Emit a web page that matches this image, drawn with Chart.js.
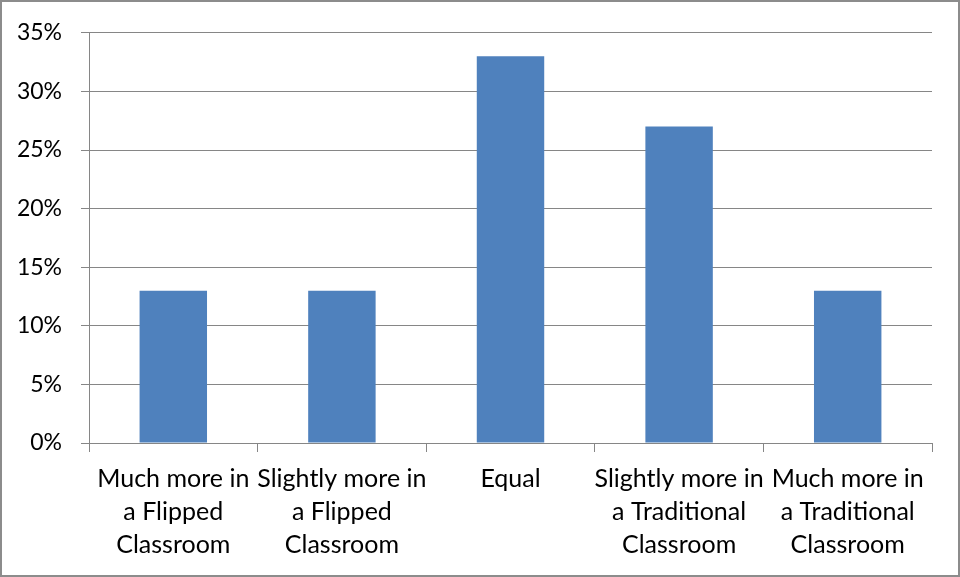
<!DOCTYPE html>
<html>
<head>
<meta charset="utf-8">
<script src="https://cdn.jsdelivr.net/npm/chart.js@4.4.1/dist/chart.umd.min.js"></script>
<style>
  html, body { margin: 0; padding: 0; background: #fff; }
  #wrap { width: 960px; height: 577px; position: relative; }
</style>
</head>
<body>
<div id="wrap"><canvas id="chart" width="960" height="577"></canvas></div>
<script>
const categories = [
  ['Much more in', 'a Flipped', 'Classroom'],
  ['Slightly more in', 'a Flipped', 'Classroom'],
  'Equal',
  ['Slightly more in', 'a Traditional', 'Classroom'],
  ['Much more in', 'a Traditional', 'Classroom']
];
const percentages = [13, 13, 33, 27, 13];

const axisGray = '#868686';
const fontFamily = 'Lato, "Open Sans", sans-serif';

// draw the outer frame around the whole chart
const framePlugin = {
  id: 'frame',
  afterDraw(chart) {
    const ctx = chart.ctx;
    ctx.save();
    ctx.strokeStyle = '#8c8c8c';
    ctx.lineWidth = 2;
    ctx.strokeRect(1, 1, chart.width - 2, chart.height - 2);
    ctx.restore();
  }
};

new Chart(document.getElementById('chart'), {
  type: 'bar',
  data: {
    labels: categories,
    datasets: [{
      data: percentages,
      backgroundColor: '#4F81BD',
      borderWidth: 0,
      barPercentage: 0.4,
      categoryPercentage: 1
    }]
  },
  options: {
    responsive: false,
    animation: false,
    layout: { padding: { left: 0, top: 30, right: 28, bottom: 0 } },
    plugins: {
      legend: { display: false },
      tooltip: { enabled: false }
    },
    scales: {
      y: {
        min: 0,
        max: 35,
        ticks: {
          stepSize: 5,
          color: '#000',
          padding: 19,
          font: { family: fontFamily, size: 23 },
          callback: (v) => v + '%'
        },
        grid: { color: axisGray, lineWidth: 1, tickLength: 8 },
        border: { color: axisGray, width: 1 },
        afterFit(scale) { scale.width = 89; }
      },
      x: {
        ticks: {
          color: '#000',
          maxRotation: 0,
          autoSkip: false,
          padding: 10,
          font: { family: fontFamily, size: 25, lineHeight: 1.32 }
        },
        grid: { color: axisGray, drawOnChartArea: false, tickLength: 9, offset: true },
        border: { color: axisGray, width: 1 },
        afterFit(scale) { scale.height = 134; }
      }
    }
  },
  plugins: [framePlugin]
});
</script>
</body>
</html>
